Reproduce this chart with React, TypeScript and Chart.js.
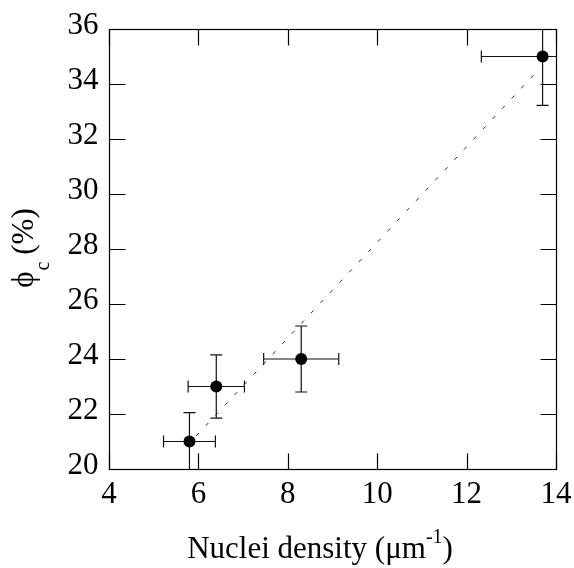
import React, { useEffect, useRef } from "react";
import { Chart, registerables } from "chart.js";

Chart.register(...registerables);

const xVals = [5.8, 6.4, 8.3, 13.7];
const yVals = [21, 23, 24, 35];
const xErr = [0.58, 0.63, 0.84, 1.37];
const yErr = [1.05, 1.15, 1.2, 1.78];
const fitX = [5.95, 13.6];
const fitY = [21.2, 34.5];
const xTicks = [4, 6, 8, 10, 12, 14];
const yTicks = [20, 22, 24, 26, 28, 30, 32, 34, 36];
const xTitle = ["Nuclei density (\u03bcm", "-1", ")"];
const yTitle = ["\u03d5", "c", " (%)"];

const FONT = "'Liberation Serif', 'Times New Roman', serif";

const errorBarPlugin = {
  id: "errorBars",
  beforeDatasetsDraw(chart: any) {
    const { ctx, chartArea: a, scales } = chart;
    const xs = scales.x;
    const ys = scales.y;
    ctx.save();
    ctx.beginPath();
    ctx.rect(a.left, a.top, a.right - a.left, a.bottom - a.top);
    ctx.clip();
    ctx.strokeStyle = "#111";
    ctx.lineWidth = 1.2;
    const cap = 6;
    for (let i = 0; i < xVals.length; i++) {
      const px = xs.getPixelForValue(xVals[i]);
      const py = ys.getPixelForValue(yVals[i]);
      const x0 = xs.getPixelForValue(xVals[i] - xErr[i]);
      const x1 = xs.getPixelForValue(xVals[i] + xErr[i]);
      const y0 = ys.getPixelForValue(yVals[i] - yErr[i]);
      const y1 = ys.getPixelForValue(yVals[i] + yErr[i]);
      ctx.beginPath();
      ctx.moveTo(x0, py);
      ctx.lineTo(x1, py);
      ctx.moveTo(x0, py - cap);
      ctx.lineTo(x0, py + cap);
      ctx.moveTo(x1, py - cap);
      ctx.lineTo(x1, py + cap);
      ctx.moveTo(px, y0);
      ctx.lineTo(px, y1);
      ctx.moveTo(px - cap, y0);
      ctx.lineTo(px + cap, y0);
      ctx.moveTo(px - cap, y1);
      ctx.lineTo(px + cap, y1);
      ctx.stroke();
    }
    ctx.restore();
  },
};

const framePlugin = {
  id: "frame",
  afterDraw(chart: any) {
    const { ctx, chartArea: a, scales } = chart;
    const L = Math.round(a.left) + 0.5;
    const R = Math.round(a.right) + 0.5;
    const T = Math.round(a.top) + 0.5;
    const B = Math.round(a.bottom) + 0.5;
    ctx.save();
    ctx.strokeStyle = "#000";
    ctx.lineWidth = 1.2;
    ctx.strokeRect(L, T, R - L, B - T);
    const tl = 16;
    ctx.beginPath();
    for (const v of xTicks) {
      const x = Math.round(scales.x.getPixelForValue(v)) + 0.5;
      ctx.moveTo(x, B);
      ctx.lineTo(x, B - tl);
      ctx.moveTo(x, T);
      ctx.lineTo(x, T + tl);
    }
    for (const v of yTicks) {
      const y = Math.round(scales.y.getPixelForValue(v)) + 0.5;
      ctx.moveTo(L, y);
      ctx.lineTo(L + tl, y);
      ctx.moveTo(R, y);
      ctx.lineTo(R - tl, y);
    }
    ctx.stroke();

    const big = `31px ${FONT}`;
    const small = `20px ${FONT}`;
    ctx.fillStyle = "#000";
    ctx.textBaseline = "alphabetic";

    // tick labels
    ctx.font = big;
    ctx.textAlign = "center";
    for (const v of xTicks) {
      ctx.fillText(String(v), scales.x.getPixelForValue(v), B + 33);
    }
    ctx.textAlign = "right";
    for (const v of yTicks) {
      ctx.fillText(String(v), L - 11, scales.y.getPixelForValue(v) + 4.5);
    }

    // X title
    ctx.textAlign = "left";
    ctx.font = big;
    const w1 = ctx.measureText(xTitle[0]).width;
    const w3 = ctx.measureText(xTitle[2]).width;
    ctx.font = small;
    const w2 = ctx.measureText(xTitle[1]).width;
    const total = w1 + w2 + w3;
    const cx = 320;
    const sx = cx - total / 2;
    const by = 558;
    ctx.font = big;
    ctx.fillText(xTitle[0], sx, by);
    ctx.font = small;
    ctx.fillText(xTitle[1], sx + w1, by - 15);
    ctx.font = big;
    ctx.fillText(xTitle[2], sx + w1 + w2, by);

    // Y title
    ctx.save();
    const cy = 248;
    ctx.translate(33, cy);
    ctx.rotate(-Math.PI / 2);
    ctx.font = big;
    const v1 = ctx.measureText(yTitle[0]).width;
    const v3 = ctx.measureText(yTitle[2]).width;
    ctx.font = small;
    const v2 = ctx.measureText(yTitle[1]).width;
    const tot = v1 + v2 + v3;
    const tx = -tot / 2;
    ctx.font = big;
    ctx.fillText(yTitle[0], tx, 0);
    ctx.font = small;
    ctx.fillText(yTitle[1], tx + v1 + 1, 16);
    ctx.font = big;
    ctx.fillText(yTitle[2], tx + v1 + v2, 0);
    ctx.restore();

    ctx.restore();
  },
};

export default function App() {
  const ref = useRef<HTMLCanvasElement | null>(null);
  useEffect(() => {
    if (!ref.current) return;
    const chart = new Chart(ref.current, {
      type: "scatter",
      data: {
        datasets: [
          {
            type: "line",
            data: fitX.map((x, i) => ({ x, y: fitY[i] })),
            borderColor: "#333",
            borderWidth: 1,
            borderDash: [4, 10],
            pointRadius: 0,
            fill: false,
          } as any,
          {
            data: xVals.map((x, i) => ({ x, y: yVals[i] })),
            backgroundColor: "#000",
            borderColor: "#000",
            pointRadius: 6,
            pointBorderWidth: 0,
          },
        ],
      },
      options: {
        responsive: false,
        animation: false,
        layout: { padding: { left: 0, right: 18, top: 29, bottom: 0 } },
        plugins: {
          legend: { display: false },
          tooltip: { enabled: false },
        },
        scales: {
          x: {
            type: "linear",
            min: 4,
            max: 14,
            afterFit: (s: any) => {
              s.height = 99;
            },
            grid: { display: false },
            border: { display: false },
            ticks: { display: false },
          },
          y: {
            type: "linear",
            min: 20,
            max: 36,
            afterFit: (s: any) => {
              s.width = 109;
            },
            grid: { display: false },
            border: { display: false },
            ticks: { display: false },
          },
        },
      },
      plugins: [errorBarPlugin, framePlugin],
    } as any);
    return () => chart.destroy();
  }, []);
  return (
    <div style={{ position: "absolute", left: 0, top: 0, width: 574, height: 568, background: "#fff" }}>
      <canvas ref={ref} width={574} height={568} />
    </div>
  );
}
